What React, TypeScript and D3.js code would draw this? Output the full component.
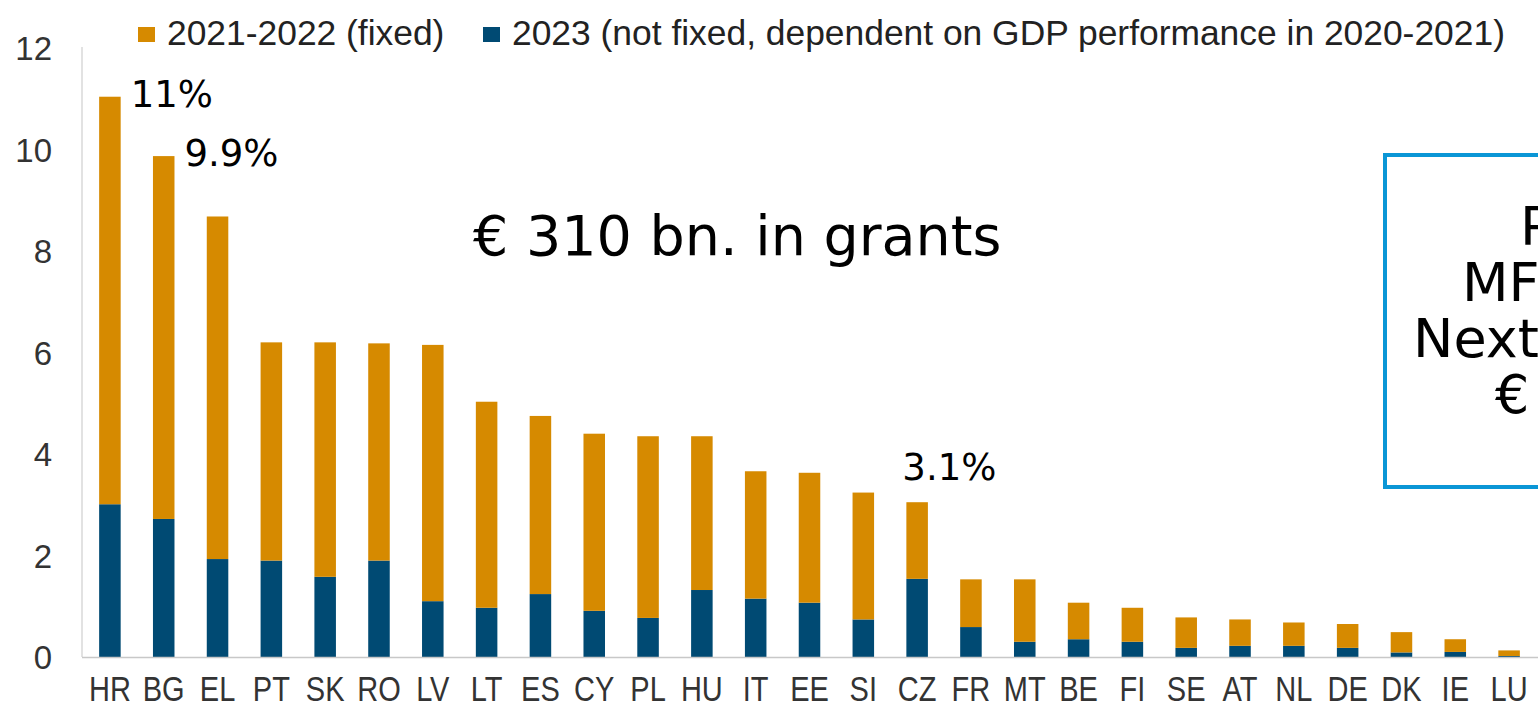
import React, { useRef, useEffect } from "react";
import * as d3 from "d3";

const countries = ["HR", "BG", "EL", "PT", "SK", "RO", "LV", "LT", "ES", "CY", "PL", "HU", "IT", "EE", "SI", "CZ", "FR", "MT", "BE", "FI", "SE", "AT", "NL", "DE", "DK", "IE", "LU"];
// 2021-2022 allocation (fixed), % of GNI
const fixed2122 = [8.03, 7.15, 6.75, 4.30, 4.62, 4.28, 5.05, 4.06, 3.51, 3.49, 3.58, 3.03, 2.51, 2.56, 2.50, 1.51, 0.94, 1.23, 0.72, 0.67, 0.60, 0.52, 0.46, 0.47, 0.40, 0.25, 0.11];
// 2023 allocation (not fixed)
const notFixed2023 = [3.01, 2.72, 1.93, 1.90, 1.58, 1.90, 1.10, 0.97, 1.24, 0.91, 0.77, 1.32, 1.15, 1.07, 0.74, 1.54, 0.59, 0.30, 0.35, 0.30, 0.18, 0.22, 0.22, 0.18, 0.09, 0.10, 0.02];
const yTicks = [0, 2, 4, 6, 8, 10, 12];
const legendLabels = ["2021-2022 (fixed)", "2023 (not fixed, dependent on GDP performance in 2020-2021)"];
const calloutCountries = ["HR", "BG", "CZ"];
const calloutLabels = ["11%", "9.9%", "3.1%"];
const headline = "€ 310 bn. in grants";
const boxLines = ["Part of", "MFF and", "NextGenerationEU", "€ 750 bn."];

const ORANGE = "#d68a00";
const BLUE = "#004a73";

const Chart = () => {
  const svgRef = useRef<SVGSVGElement>(null);

  useEffect(() => {
    const width = 1538;
    const svg = d3.select(svgRef.current);
    svg.selectAll("*").remove();

    const axisFont = "'Liberation Sans', Arial, sans-serif";
    const noteFont = "'DejaVu Sans', Verdana, sans-serif";

    const x = d3.scaleBand().domain(countries).range([83, 1536]).paddingInner(0.6).paddingOuter(0.3);
    const y = d3.scaleLinear().domain([0, 12]).range([657, 48]);

    const rows = countries.map((c, i) => ({ country: c, fixed: fixed2122[i], later: notFixed2023[i] }));
    const series = d3.stack<any>().keys(["later", "fixed"])(rows);
    const colors: Record<string, string> = { later: BLUE, fixed: ORANGE };

    // y axis line + labels
    svg.append("line")
      .attr("x1", 82).attr("x2", 82).attr("y1", 47).attr("y2", 657)
      .attr("stroke", "#d9d9d9").attr("stroke-width", 1.5);

    svg.append("g")
      .selectAll("text")
      .data(yTicks)
      .join("text")
      .attr("x", 52)
      .attr("y", d => y(d) + 12)
      .attr("text-anchor", "end")
      .attr("font-family", axisFont)
      .attr("font-size", 33)
      .attr("fill", "#333")
      .text(d => d);

    // stacked bars
    svg.append("g")
      .selectAll("g")
      .data(series)
      .join("g")
      .attr("fill", d => colors[d.key])
      .selectAll("rect")
      .data(d => d)
      .join("rect")
      .attr("x", d => x(d.data.country)!)
      .attr("width", x.bandwidth())
      .attr("y", d => y(d[1]))
      .attr("height", d => y(d[0]) - y(d[1]));

    // x axis line + labels
    svg.append("line")
      .attr("x1", 82).attr("x2", width).attr("y1", 657.5).attr("y2", 657.5)
      .attr("stroke", "#c8c8c8").attr("stroke-width", 1.5);

    svg.append("g")
      .selectAll("text")
      .data(countries)
      .join("text")
      .attr("transform", d => `translate(${x(d)! + x.bandwidth() / 2}, 701) scale(1, 1.2)`)
      .attr("text-anchor", "middle")
      .attr("font-family", axisFont)
      .attr("font-size", 29)
      .attr("fill", "#333")
      .text(d => d);

    // legend
    const legendX = [138, 483];
    const legendColors = [ORANGE, BLUE];
    legendLabels.forEach((lab, i) => {
      svg.append("rect")
        .attr("x", legendX[i]).attr("y", 27).attr("width", 17).attr("height", 15)
        .attr("fill", legendColors[i]);
      svg.append("text")
        .attr("x", legendX[i] + 29).attr("y", 45)
        .attr("font-family", axisFont).attr("font-size", 35.4)
        .attr("fill", "#222")
        .text(lab);
    });

    // value callouts: first two beside the bar top, the last one above it
    calloutCountries.forEach((c, k) => {
      const i = countries.indexOf(c);
      const top = y(fixed2122[i] + notFixed2023[i]);
      const beside = k < 2;
      svg.append("text")
        .attr("x", beside ? x(c)! + x.bandwidth() + 10 : x(c)! - 4)
        .attr("y", beside ? top + 10 : top - 22)
        .attr("font-family", noteFont)
        .attr("font-size", 37)
        .attr("fill", "#000")
        .text(calloutLabels[k]);
    });

    svg.append("text")
      .attr("x", 473).attr("y", 255)
      .attr("font-family", noteFont).attr("font-size", 55.5)
      .attr("fill", "#000")
      .text(headline);

    // blue box on the right (cut off by the frame)
    svg.append("rect")
      .attr("x", 1385).attr("y", 155).attr("width", 300).attr("height", 332)
      .attr("fill", "#fff").attr("stroke", "#0a96d6").attr("stroke-width", 4);

    const boxX = [1520, 1462, 1413, 1495];
    svg.append("g")
      .selectAll("text")
      .data(boxLines)
      .join("text")
      .attr("x", (d, i) => boxX[i])
      .attr("y", (d, i) => 245 + i * 56)
      .attr("font-family", noteFont)
      .attr("font-size", 54)
      .attr("fill", "#000")
      .text(d => d);
  }, []);

  return (
    <svg
      ref={svgRef}
      width={1538}
      height={707}
      style={{ position: "absolute", left: 0, top: 0, background: "#fff", overflow: "hidden" }}
    />
  );
};

export default function App() {
  return <Chart />;
}
